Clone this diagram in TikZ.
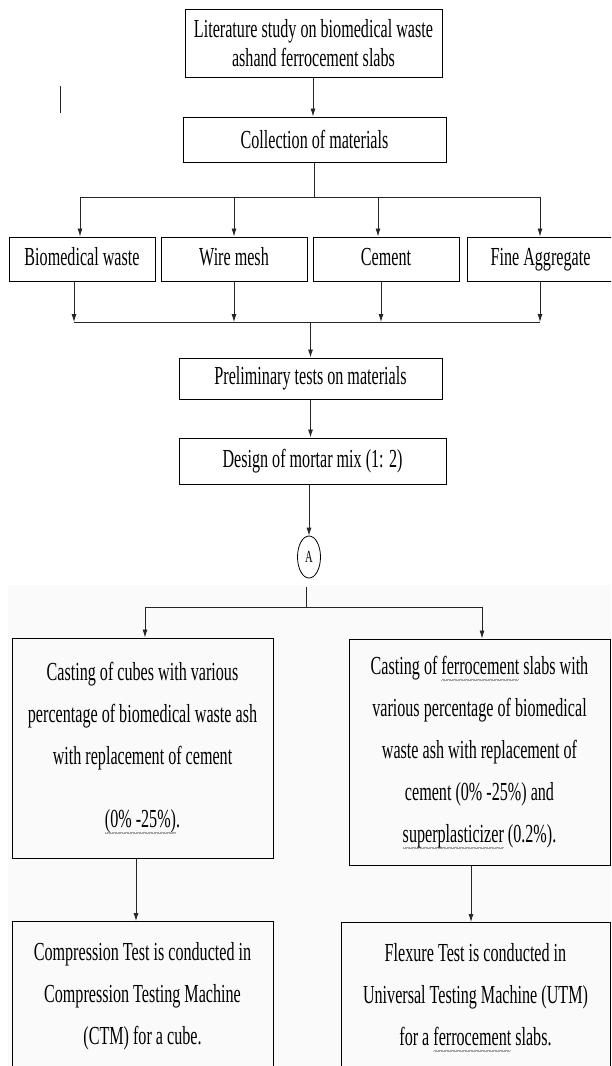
\documentclass[tikz,border=0pt]{standalone}
\usepackage{fontspec}
\setmainfont{Liberation Serif}[FakeStretch=0.62]
\usepackage{xcolor}
\usepackage{tikz}
\usetikzlibrary{calc}
\usetikzlibrary{shapes.geometric,arrows.meta}
\tikzstyle{box} = [draw, line width=1pt, inner sep=0pt, align=center,
	font=\fontsize{26}{29}\selectfont]
\tikzstyle{bigbox} = [box, font=\fontsize{26}{42}\selectfont]
\tikzstyle{flow} = [line width=0.8pt, draw=black!85]
% wavy spell-check underline, made of small rules
\newlength{\spellwd}
\newcommand{\spellmark}[1]{\settowidth{\spellwd}{#1}%
	\rlap{\raisebox{-6pt}{\color{gray!70}\leaders\hbox{\rule{0.6pt}{0.6pt}\rule[0.6pt]{0.6pt}{0.6pt}}\hskip\spellwd}}#1}

\begin{document}
\begin{tikzpicture}[x=1pt,y=-1pt,>={Latex[length=8pt,width=5pt]}]
   \useasboundingbox (0,0) rectangle (611,1066);
   \clip (0,0) rectangle (611,1066);
   \fill[black!2] (8,585) rectangle (611,1066);

   \node[box, minimum width=257pt, minimum height=68pt] (lit) at (313.5,43)
   	{Literature study on biomedical waste\\ashand ferrocement slabs};
   \node[box, minimum width=263pt, minimum height=45pt] (coll) at (314.5,139.5) {Collection of materials};
   \draw[flow] (60,86) -- (60,113);
   \draw[flow,->] (lit.south -| 313,0) -- (coll.north -| 313,0);

   \foreach \name/\x/\txt in {bmw/82/Biomedical waste, wire/234/Wire mesh, cem/386/Cement, fine/540.5/Fine Aggregate}
   	\node[box, minimum width=146pt, minimum height=44pt, text height=18pt, text depth=6pt] (\name) at (\x,259) {\txt};

   % split to the materials
   \coordinate (j1) at (80,197);
   \coordinate (j2) at (234,197);
   \coordinate (j3) at (378,197);
   \coordinate (j4) at (540,197);
   \draw[flow] (coll.south) -- (coll.south |- j1);
   \draw[flow] (j1) -- (j4);
   \draw[flow,->] (j1) -- (j1 |- bmw.north);
   \draw[flow,->] (j2) -- (j2 |- wire.north);
   \draw[flow,->] (j3) -- (j3 |- cem.north);
   \draw[flow,->] (j4) -- (j4 |- fine.north);

   % merge
   \coordinate (k1) at (74,322);
   \coordinate (k2) at (234,322);
   \coordinate (k3) at (381,322);
   \coordinate (k4) at (540,322);
   \draw[flow,->] (k1 |- bmw.south) -- (k1);
   \draw[flow,->] (k2 |- wire.south) -- (k2);
   \draw[flow,->] (k3 |- cem.south) -- (k3);
   \draw[flow,->] (k4 |- fine.south) -- (k4);
   \draw[flow] (k1) -- (k4);

   \node[box, minimum width=263pt, minimum height=41pt] (prelim) at (310.5,378.5) {Preliminary tests on materials};
   \node[box, minimum width=267pt, minimum height=46pt] (design) at (312.5,461) {Design of mortar mix (1: 2)};
   \node[draw, ellipse, line width=0.8pt, minimum width=23pt, minimum height=42pt, inner sep=0pt,
   	font=\fontsize{17}{17}\selectfont] (A) at (309,557) {A};
   \draw[flow,->] (prelim.north |- k1) -- (prelim.north);
   \draw[flow,->] (prelim.south) -- (prelim.south |- design.north);
   \draw[flow,->] (design.south -| A.north) -- (A.north);

   \node[bigbox, minimum width=261pt, minimum height=220pt] (cubes) at (142.5,748)
   	{Casting of cubes with various\\percentage of biomedical waste ash\\with replacement of cement\\[21pt]
   	 \spellmark{(0\% -25\%)}.};
   \node[bigbox, minimum width=261pt, minimum height=226pt] (slabs) at (479.5,752)
   	{Casting of \spellmark{ferrocement} slabs with\\various percentage of biomedical\\waste ash with replacement of\\
   	 cement (0\% -25\%) and\\\spellmark{superplasticizer} (0.2\%).};

   % split after A
   \coordinate (gap) at (306,587);
   \coordinate (m) at (306,607);
   \coordinate (l1) at (145,607);
   \coordinate (r1) at (482,607);
   \draw[flow] (gap) -- (m);
   \draw[flow] (l1) -- (r1);
   \draw[flow,->] (l1) -- (l1 |- cubes.north);
   \draw[flow,->] (r1) -- (r1 |- slabs.north);

   \node[bigbox, anchor=north, minimum width=261pt, minimum height=150pt] (comp) at (142.5,921)
   	{Compression Test is conducted in\\Compression Testing Machine\\(CTM) for a cube.};
   \node[bigbox, anchor=north, minimum width=269pt, minimum height=150pt] (flex) at (475.5,922)
   	{Flexure Test is conducted in\\Universal Testing Machine (UTM)\\for a \spellmark{ferrocement} slabs.};

   \coordinate (d1) at ($(cubes.south)+(-6.5,0)$);
   \coordinate (d2) at ($(slabs.south)+(-8.5,0)$);
   \draw[flow,->] (d1) -- (d1 |- comp.north);
   \draw[flow,->] (d2) -- (d2 |- flex.north);
\end{tikzpicture}
\end{document}
